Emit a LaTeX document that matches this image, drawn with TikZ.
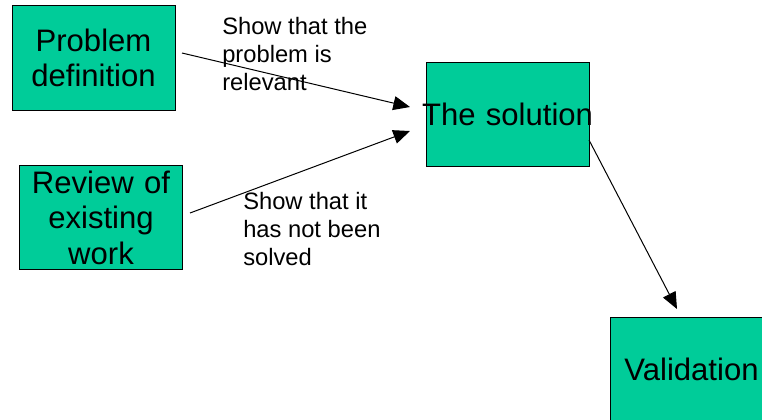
\documentclass[tikz,border=0pt]{standalone}
\usepackage{fontspec}
\setmainfont{Liberation Sans}
\usetikzlibrary{arrows.meta}
\definecolor{boxgreen}{HTML}{00CC99}
\begin{document}
\begin{tikzpicture}[x=0.75pt,y=-0.75pt,
  box/.style={draw=black, line width=0.75pt, fill=boxgreen, inner sep=0pt,
    minimum width=122.25pt, minimum height=78.5pt, text width=122.25pt,
    align=center, font=\fontsize{23.3}{26.6}\selectfont},
  note/.style={inner sep=0pt, align=left, anchor=base west,
    font=\fontsize{17.8}{20.7}\selectfont},
  link/.style={line width=0.75pt, -{Triangle[length=12.5pt,width=10.5pt]}}]
\clip (0,0) rectangle (762,419);

% boxes
\node[box] (prob) at (93.5,58) {Problem\\definition};
\node[box] (rev) at (101,217.5) {Review of\\existing\\work};
\node[box] (sol) at (507.5,114.5) {\makebox[122.25pt]{The solution}};
\node[box] (val) at (691.5,369.5) {Validation};

% notes beside the arrows (anchored at the baseline of the last line)
\node[note] (why) at (222,90) {Show that the\\problem is\\relevant};
\node[note] (gap) at (243,265) {Show that it\\has not been\\solved};

% arrow end points
\coordinate (a1s) at (182,53);
\coordinate (a1e) at (410,107);
\coordinate (a2s) at (190,213);
\coordinate (a2e) at (410,131);
\coordinate (a3s) at (589,140);
\coordinate (a3e) at (677,309);

\draw[link] (a1s) -- (a1e);
\draw[link] (a2s) -- (a2e);
\draw[link] (a3s) -- (a3e);
\end{tikzpicture}
\end{document}
